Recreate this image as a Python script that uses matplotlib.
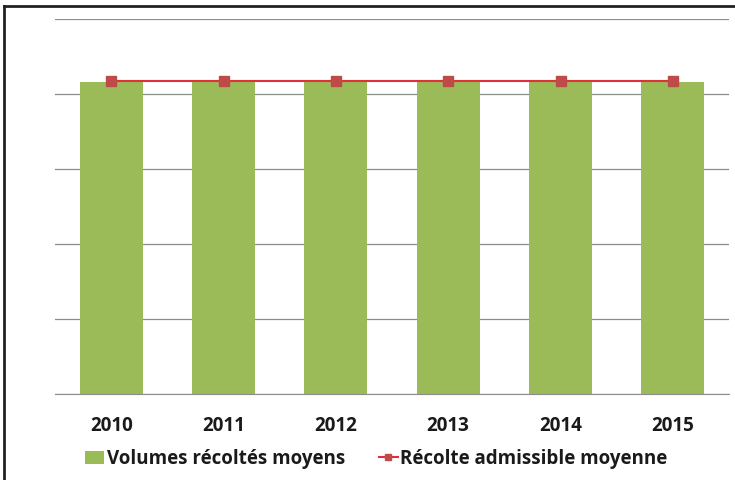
import matplotlib
matplotlib.use("Agg")
import matplotlib.pyplot as plt
from matplotlib.lines import Line2D
import numpy as np

years = ["2010", "2011", "2012", "2013", "2014", "2015"]
volumes = [4.16, 4.16, 4.16, 4.16, 4.16, 4.16]
admissible = [4.18, 4.18, 4.18, 4.18, 4.18, 4.18]

plt.rcParams['font.family'] = ['Open Sans', 'DejaVu Sans']

W, H = 735, 480
fig = plt.figure(figsize=(W/100, H/100), dpi=100)
ax = fig.add_axes([55/W, 1 - 394/H, (729-55)/W, (394-19)/H])

x = np.arange(len(years))
bars = ax.bar(x, volumes, width=0.56, color="#9BBB59", zorder=2, label="Volumes récoltés moyens")
line, = ax.plot(x, admissible, color="#E0303A", lw=1.5, marker="s", markersize=7,
                markerfacecolor="#BE4B48", markeredgecolor="#BE4B48", zorder=3,
                label="Récolte admissible moyenne")

ax.set_xlim(-0.5, len(years) - 0.5)
ax.set_ylim(0, 5)
ax.set_yticks([0, 1, 2, 3, 4, 5])
ax.set_yticklabels([])
ax.tick_params(axis='y', length=0)
ax.tick_params(axis='x', length=0, pad=16)
ax.set_xticks(x)
ax.set_xticklabels(years, fontsize=13.5, fontweight='bold', color='#1a1a1a')
ax.grid(axis='y', color='#8c8c8c', lw=0.9, zorder=0)
for s in ['top', 'right', 'left']:
    ax.spines[s].set_visible(False)
ax.spines['bottom'].set_color('#8c8c8c')
ax.spines['bottom'].set_zorder(4)

leg = fig.legend([bars, line], ["Volumes récoltés moyens", "Récolte admissible moyenne"],
                 loc='center left', bbox_to_anchor=(76/W, 1 - 459/H), ncol=2,
                 frameon=False, prop={'size': 13.5, 'weight': 'bold'}, borderpad=0,
                 handlelength=1.0, handletextpad=0.15, columnspacing=1.8)
for t in leg.get_texts():
    t.set_color('#1a1a1a')
for h in leg.legend_handles:
    if isinstance(h, Line2D):
        h.set_markersize(5)

fig.add_artist(Line2D([4/W, 4/W], [0, 1 - 6/H], color='#222222', lw=2))
fig.add_artist(Line2D([4/W, 1], [1 - 6/H, 1 - 6/H], color='#222222', lw=2))

fig.savefig("out.png", dpi=100)
